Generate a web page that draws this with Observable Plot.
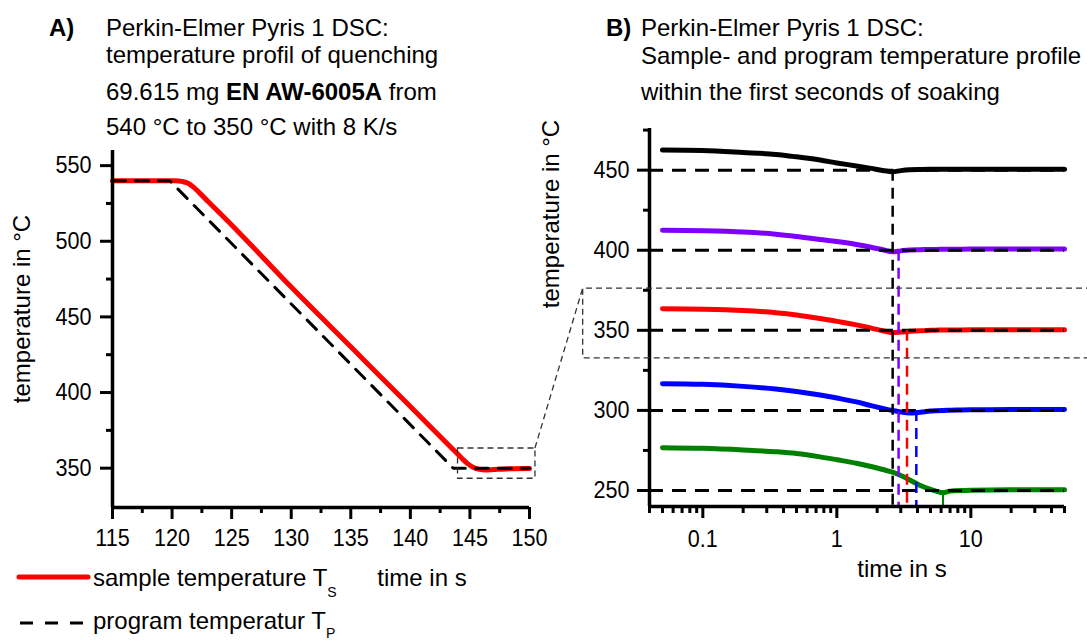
<!DOCTYPE html>
<html>
<head>
<meta charset="utf-8">
<script src="https://cdn.jsdelivr.net/npm/d3@7"></script>
<script src="https://cdn.jsdelivr.net/npm/@observablehq/plot@0.6"></script>
<style>
html, body { margin: 0; padding: 0; background: #fff; }
#root { position: relative; width: 1087px; height: 642px; overflow: hidden; background: #fff; }
#root svg { position: absolute; }
</style>
</head>
<body>
<div id="root"></div>
<script>
// ---------- Panel A data (quenching 540 -> 350 °C, 8 K/s) ----------
const sampleTime = [115, 120.3, 120.8, 121.3, 121.8, 122.3, 123, 125, 130, 135, 140, 143.5, 144.3, 144.8, 145.3, 145.8, 146.3, 147, 148, 150];
const sampleTemp = [540, 540, 539.6, 538.5, 535.8, 532, 526.5, 510.8, 469.7, 430.2, 390.7, 363, 356.7, 353, 350.5, 349.2, 348.8, 349.1, 349.5, 349.7];
const programTime = [115, 119.8, 143.6, 150];
const programTemp = [540, 540, 350, 350];
const aTicksX = [115, 120, 125, 130, 135, 140, 145, 150];
const aMinorX = [117.5, 122.5, 127.5, 132.5, 137.5, 142.5, 147.5];
const aTicksY = [350, 400, 450, 500, 550];
const aMinorY = [375, 425, 475, 525];

// ---------- Panel B data (soaking, log time) ----------
const setpoints = [450, 400, 350, 300, 250];
const seriesColors = ["#000000", "#8000ff", "#ff0000", "#0000ff", "#008000"];
const timesB = [0.05, 0.1, 0.2, 0.35, 0.5, 0.75, 1, 1.4, 1.8, 2.2, 2.6, 3, 3.5, 4.2, 5, 5.5, 6.2, 7, 10, 20, 50];
const temp450 = [462.5, 462.2, 461.0, 459.8, 458.3, 456.3, 454.5, 452.6, 451.1, 449.8, 449.0, 449.7, 450.2, 450.4, 450.5, 450.5, 450.5, 450.5, 450.5, 450.5, 450.5];
const temp400 = [412.5, 412.2, 411.4, 410.0, 408.6, 406.7, 405.4, 403.6, 401.9, 400.3, 399.0, 399.6, 400.1, 400.3, 400.5, 400.5, 400.6, 400.6, 400.7, 400.7, 400.7];
const temp350 = [363.5, 363.2, 362.4, 361.0, 359.6, 357.4, 355.6, 353.4, 351.4, 349.7, 348.6, 348.9, 349.4, 349.8, 350.0, 350.1, 350.2, 350.2, 350.3, 350.4, 350.4];
const temp300 = [316.7, 316.3, 315.0, 313.3, 311.8, 309.6, 307.7, 305.3, 303.0, 301.3, 300.0, 299.0, 298.4, 298.9, 299.6, 299.8, 300.0, 300.1, 300.4, 300.5, 300.6];
const temp250 = [276.7, 276.3, 275.3, 274.2, 273.1, 271.0, 269.2, 267.0, 265.0, 263.1, 261.4, 259.3, 256.6, 253.1, 250.7, 249.6, 248.6, 249.6, 250.2, 250.4, 250.4];
const markerTimes = [2.61, 2.89, 3.34, 3.92, 6.2];
const bTicksX = [0.1, 1, 10];
const bMinorX = [0.04, 0.05, 0.06, 0.07, 0.08, 0.09, 0.2, 0.3, 0.4, 0.5, 0.6, 0.7, 0.8, 0.9, 2, 3, 4, 5, 6, 7, 8, 9, 20, 30, 40, 50];
const bTicksY = [250, 300, 350, 400, 450];
const bMinorY = [275, 325, 375, 425, 475];

// zoom boxes (data units)
const zoomBoxA = {t0: 144, t1: 150.5, T0: 343, T1: 363};
const zoomBoxB = {t0: 0.0128, T0: 332.5, T1: 376};

// ---------- texts ----------
const titleA = [
  [["Perkin-Elmer Pyris 1 DSC:", false]],
  [["temperature profil of quenching", false]],
  [["69.615 mg ", false], ["EN AW-6005A", true], [" from", false]],
  [["540 °C to 350 °C with 8 K/s", false]]
];
const titleB = [
  [["Perkin-Elmer Pyris 1 DSC:", false]],
  [["Sample- and program temperature profile", false]],
  [["within the first seconds of soaking", false]]
];

// ---------- build ----------
const FONT = '"Liberation Sans", Arial, Helvetica, sans-serif';
const root = document.getElementById("root");
const W = 1087, H = 642;

const sampleData = sampleTime.map((t, i) => ({t, T: sampleTemp[i]}));
const programData = programTime.map((t, i) => ({t, T: programTemp[i]}));

const A_POS = {left: 0, top: 140};
const plotA = Plot.plot({
  width: 560, height: 502,
  marginLeft: 112, marginRight: 31, marginTop: 10, marginBottom: 135,
  style: {fontFamily: FONT, fontSize: "22px", color: "#000", background: "transparent", overflow: "visible"},
  x: {domain: [115, 150]},
  y: {domain: [324, 560]},
  marks: [
    Plot.line(sampleData, {x: "t", y: "T", stroke: "#ff0000", strokeWidth: 5, curve: "monotone-x"}),
    Plot.line(programData, {x: "t", y: "T", stroke: "#000", strokeWidth: 3, strokeDasharray: "13,10"}),
    Plot.axisX(aTicksX, {tickSize: 12, tickPadding: 9, strokeWidth: 3, label: null, fontSize: 22}),
    Plot.axisX(aMinorX, {tickSize: 6, strokeWidth: 3, label: null, tickFormat: () => ""}),
    Plot.axisY(aTicksY, {tickSize: 12, tickPadding: 9, strokeWidth: 3, label: null, fontSize: 22}),
    Plot.axisY(aMinorY, {tickSize: 6, strokeWidth: 3, label: null, tickFormat: () => ""}),
    Plot.ruleX([115], {strokeWidth: 3.5}),
    Plot.ruleY([324], {strokeWidth: 3.5})
  ]
});
plotA.style.left = A_POS.left + "px";
plotA.style.top = A_POS.top + "px";
root.appendChild(plotA);

const tempsB = [temp450, temp400, temp350, temp300, temp250];
const curveData = [];
setpoints.forEach((sp, s) => timesB.forEach((t, i) => curveData.push({s, t, T: tempsB[s][i]})));
const markerData = markerTimes.map((t, s) => ({t, sp: setpoints[s], color: seriesColors[s], green: s === 4}));

const B_POS = {left: 560, top: 100};
const plotB = Plot.plot({
  width: 527, height: 542,
  marginLeft: 89, marginRight: 23, marginTop: 28, marginBottom: 136,
  style: {fontFamily: FONT, fontSize: "22px", color: "#000", background: "transparent", overflow: "visible"},
  x: {type: "log", domain: [0.04, 50]},
  y: {domain: [240, 476]},
  marks: [
    Plot.line(curveData, {x: "t", y: "T", z: "s", stroke: d => seriesColors[d.s], strokeWidth: 5, curve: "monotone-x"}),
    Plot.ruleY(setpoints, {stroke: "#000", strokeWidth: 3, strokeDasharray: "14,9"}),
    Plot.ruleX(markerData.filter(d => !d.green), {x: "t", y1: "sp", y2: 240, stroke: "color", strokeWidth: 2.5, strokeDasharray: "11,7"}),
    Plot.ruleX(markerData.filter(d => d.green), {x: "t", y1: "sp", y2: 240, stroke: "color", strokeWidth: 2}),
    Plot.axisX(bTicksX, {tickSize: 12, tickPadding: 11, strokeWidth: 3, label: null, fontSize: 22, tickFormat: d => String(d)}),
    Plot.axisX(bMinorX, {tickSize: 7, strokeWidth: 3, label: null, tickFormat: () => ""}),
    Plot.axisY(bTicksY, {tickSize: 12, tickPadding: 8, strokeWidth: 3, label: null, fontSize: 22}),
    Plot.axisY(bMinorY, {tickSize: 6, strokeWidth: 3, label: null, tickFormat: () => ""}),
    Plot.ruleX([0.04], {strokeWidth: 3.5}),
    Plot.ruleY([240], {strokeWidth: 3.5})
  ]
});
plotB.style.left = B_POS.left + "px";
plotB.style.top = B_POS.top + "px";
root.appendChild(plotB);

// taller, slightly narrow tick digits like the reference (Helvetica-style)
function condense(svg, size, factor) {
  svg.querySelectorAll("text").forEach(t => {
    if (!t.textContent.trim()) return;
    t.setAttribute("font-size", size);
    t.style.fontSize = size + "px";
    const L = t.getComputedTextLength();
    if (L > 0) {
      t.setAttribute("textLength", (L * factor).toFixed(1));
      t.setAttribute("lengthAdjust", "spacingAndGlyphs");
    }
  });
}
condense(plotA, 24, 0.9);
condense(plotB, 24, 0.9);

// ---------- overlay: titles, labels, legend, zoom connectors ----------
const ax = v => A_POS.left + plotA.scale("x").apply(v);
const ay = v => A_POS.top + plotA.scale("y").apply(v);
const bx = v => B_POS.left + plotB.scale("x").apply(v);
const by = v => B_POS.top + plotB.scale("y").apply(v);

const ov = d3.select(root).append("svg")
  .attr("width", W).attr("height", H)
  .style("left", "0px").style("top", "0px")
  .style("font-family", FONT).style("font-size", "24px")
  .style("white-space", "pre");

function block(x, lines, baselines, label, labelX) {
  ov.append("text").attr("x", labelX).attr("y", baselines[0]).attr("font-weight", "bold").text(label);
  lines.forEach((segs, i) => {
    const t = ov.append("text").attr("x", x).attr("y", baselines[i]);
    segs.forEach(([s, b]) => t.append("tspan").attr("font-weight", b ? "bold" : "normal").text(s));
  });
}
block(106, titleA, [36, 63, 100, 135], "A)", 49);
block(641, titleB, [36, 64, 100], "B)", 606);

// axis titles
ov.append("text").attr("transform", "translate(30,309) rotate(-90)").attr("text-anchor", "middle").text("temperature in °C");
ov.append("text").attr("transform", "translate(559,214) rotate(-90)").attr("text-anchor", "middle").text("temperature in °C");
ov.append("text").attr("x", 422).attr("y", 586).attr("text-anchor", "middle").text("time in s");
ov.append("text").attr("x", 902).attr("y", 577).attr("text-anchor", "middle").text("time in s");

// legend
ov.append("line").attr("x1", 19).attr("x2", 88).attr("y1", 577).attr("y2", 577)
  .attr("stroke", "#ff0000").attr("stroke-width", 5).attr("stroke-linecap", "round");
const l1 = ov.append("text").attr("x", 93).attr("y", 586);
l1.append("tspan").text("sample temperature T");
l1.append("tspan").attr("font-size", 14).attr("dy", 11).text("S");
ov.append("line").attr("x1", 20).attr("x2", 88).attr("y1", 623).attr("y2", 623)
  .attr("stroke", "#000").attr("stroke-width", 3).attr("stroke-dasharray", "13,12");
const l2 = ov.append("text").attr("x", 93).attr("y", 629);
l2.append("tspan").text("program temperatur T");
l2.append("tspan").attr("font-size", 14).attr("dy", 9).text("P");

// zoom box A
const thin = g => g.attr("fill", "none").attr("stroke", "#333").attr("stroke-width", 1.3).attr("stroke-dasharray", "6,4");
ov.append("rect")
  .attr("x", ax(zoomBoxA.t0)).attr("y", ay(zoomBoxA.T1))
  .attr("width", ax(zoomBoxA.t1) - ax(zoomBoxA.t0)).attr("height", ay(zoomBoxA.T0) - ay(zoomBoxA.T1))
  .call(thin);
// zoom box B (open to the right edge)
const bl = bx(zoomBoxB.t0), bt = by(zoomBoxB.T1), bb = by(zoomBoxB.T0);
ov.append("path").attr("d", `M${W + 5},${bt}H${bl}V${bb}H${W + 5}`).call(thin);
// connector
ov.append("line").attr("x1", ax(zoomBoxA.t1)).attr("y1", ay(zoomBoxA.T1)).attr("x2", bl).attr("y2", bt).call(thin);
</script>
</body>
</html>
